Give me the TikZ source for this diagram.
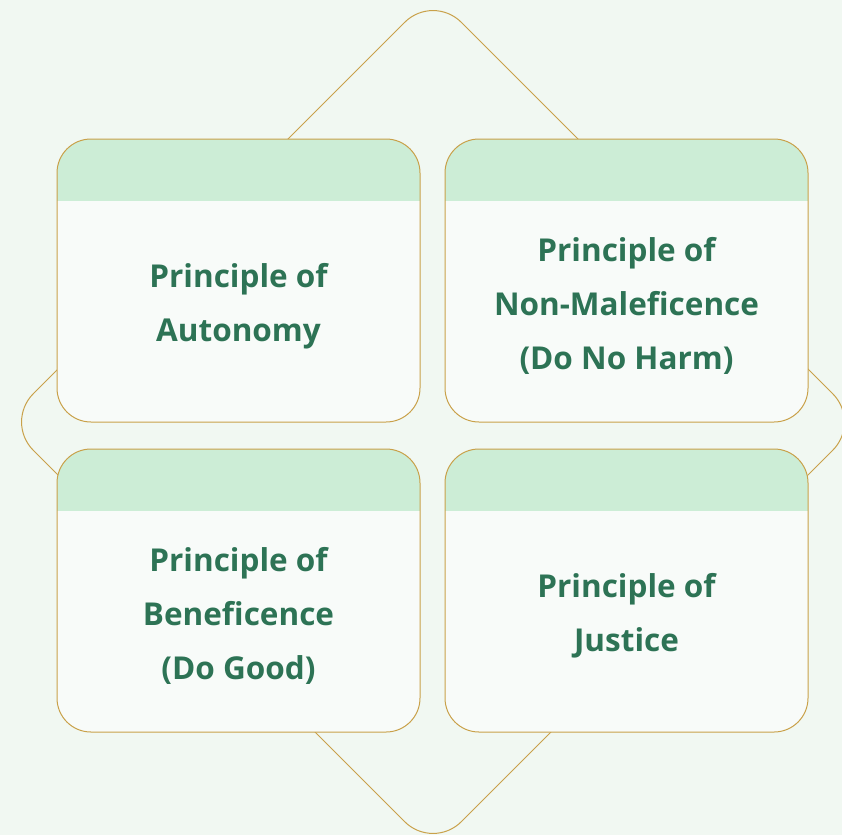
\documentclass[tikz,border=0pt]{standalone}
\usepackage{fontspec}
\setmainfont{Open Sans}
\usetikzlibrary{positioning}
\definecolor{bgcol}{HTML}{F1F8F2}
\definecolor{headcol}{HTML}{CCEDD6}
\definecolor{bodycol}{HTML}{F8FBF9}
\definecolor{goldline}{HTML}{C9A14A}
\definecolor{textgreen}{HTML}{2D7355}

\tikzset{
  principlebox/.style={draw=goldline, line width=1pt, fill=bodycol,
    rounded corners=34pt, minimum width=363pt, minimum height=283pt,
    inner sep=0pt,
    path picture={\fill[headcol, sharp corners] (path picture bounding box.north west)
      rectangle ([yshift=-62pt]path picture bounding box.north east);}},
  principletext/.style={align=center, text=textgreen,
    font=\fontsize{31.5}{54}\selectfont\bfseries}
}

\begin{document}
\begin{tikzpicture}[x=1pt, y=-1pt]
  % background
  \fill[bgcol] (0,0) rectangle (842,835);
  \useasboundingbox (0,0) rectangle (842,835);
  \clip (0,0) rectangle (842,835);

  % diamond behind the boxes
  \draw[goldline, line width=1pt, fill=bgcol, rounded corners=40pt]
    (433,-6) -- (861,422) -- (433,850) -- (5,422) -- cycle;

  % the four principles
  \node[principlebox] (autonomy) at (238.5,280.5) {};
  \node[principlebox] (nonmalef) at (626.5,280.5) {};
  \node[principlebox] (benef) at (238.5,590.5) {};
  \node[principlebox] (justice) at (626.5,590.5) {};

  \node[principletext] (autonomytext) at (238.5,306) {Principle of\\Autonomy};
  \node[principletext] (nonmaleftext) at (626.5,306) {Principle of\\Non-Maleficence\\(Do No Harm)};
  \node[principletext] (beneftext) at (238.5,616) {Principle of\\Beneficence\\(Do Good)};
  \node[principletext] (justicetext) at (626.5,616) {Principle of\\Justice};
\end{tikzpicture}
\end{document}
